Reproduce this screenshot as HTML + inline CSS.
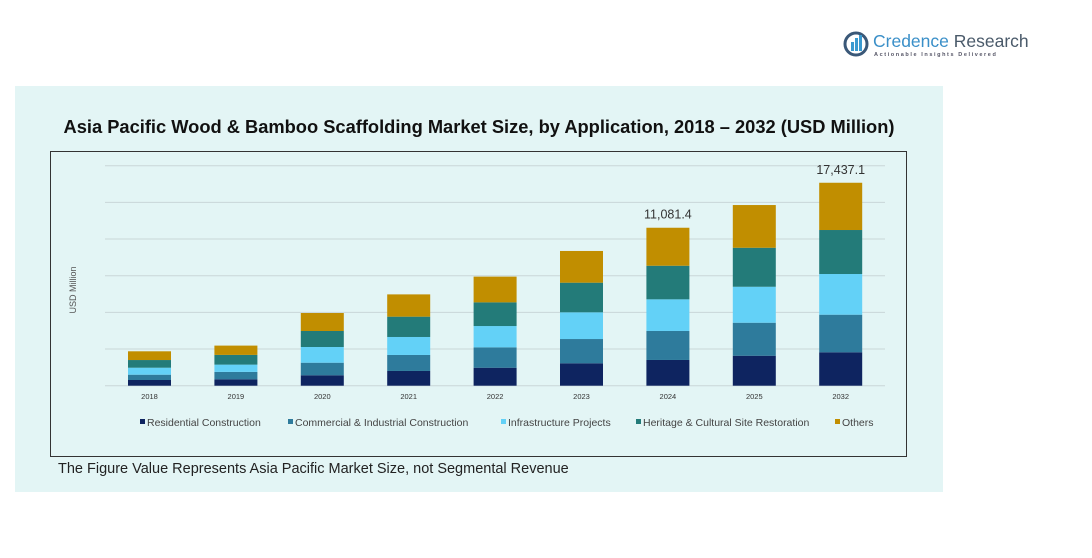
<!DOCTYPE html>
<html><head><meta charset="utf-8">
<style>
body{margin:0;width:1092px;height:558px;background:#fff;font-family:"Liberation Sans",sans-serif;overflow:hidden;position:relative}
#panel{position:absolute;left:15px;top:86px;width:928px;height:406px;background:#e3f5f5}
#title{position:absolute;left:15px;top:116px;width:928px;text-align:center;font-weight:bold;font-size:18.3px;color:#111}
#frame{position:absolute;left:50px;top:151px;width:857px;height:306px;border:1.5px solid #333;box-sizing:border-box}
#foot{position:absolute;left:58px;top:461px;font-size:14.5px;color:#222}
#logo{position:absolute;left:843px;top:28px}
</style></head><body>
<div id="panel"></div>
<div id="title">Asia Pacific Wood &amp; Bamboo Scaffolding Market Size, by Application, 2018 – 2032 (USD Million)</div>
<div id="frame"></div>
<div id="foot">The Figure Value Represents Asia Pacific Market Size, not Segmental Revenue</div>
<div id="logo">
<svg width="240" height="34"><circle cx="13" cy="16" r="11" fill="none" stroke="#3a5878" stroke-width="3"/><rect x="8" y="14" width="3" height="9" fill="#3a9ad0"/><rect x="12" y="10" width="3" height="13" fill="#3a9ad0"/><rect x="16" y="7" width="3" height="16" fill="#3a9ad0"/>
<text x="30" y="19" font-size="17.5" fill="#3a8fc8" font-family="Liberation Sans">Credence <tspan fill="#4a5a6a">Research</tspan></text>
<text x="31" y="28" font-size="5.5" fill="#556" letter-spacing="1.6" font-weight="bold">Actionable Insights Delivered</text></svg></div>
<svg id="chart" width="1092" height="558" style="position:absolute;left:0;top:0"></svg>
<script>
const categories=["2018","2019","2020","2021","2022","2023","2024","2025","2032"];
const residential=[490,550,895,1265,1545,1925,2210,2575,2870];
const commercial=[455,635,1080,1375,1750,2085,2490,2835,3230];
const infrastructure=[600,625,1350,1545,1830,2295,2720,3090,3495];
const heritage=[660,835,1375,1745,2035,2545,2885,3350,3780];
const others=[750,800,1545,1915,2210,2725,3265,3670,4060];
const seriesNames=["Residential Construction","Commercial & Industrial Construction","Infrastructure Projects","Heritage & Cultural Site Restoration","Others"];
const topLabels={"2024":"11,081.4","2032":"17,437.1"};
const colors=["#0e2460","#2e7b9c","#63d1f7","#237b79","#c18e00"];
const series=[residential,commercial,infrastructure,heritage,others];
const NS="http://www.w3.org/2000/svg";
const svg=document.getElementById('chart');
const base=385.7,yMax=18900,yTop=165.7;
const y=v=>base-(v/yMax)*(base-yTop);
const x0=149.5,step=86.4,bw=43;
const xc=i=>x0+i*step;
function mk(t,a){const e=document.createElementNS(NS,t);for(const k in a)e.setAttribute(k,a[k]);svg.appendChild(e);return e;}
for(let g=0;g<=6;g++){const gy=base-g*(base-yTop)/6;
 const l=mk('line',{x1:105,x2:885,y1:gy,y2:gy,stroke:'#c9d6d8','stroke-width':1});
 
 }
const yt=mk('text',{x:0,y:0,'font-size':9,fill:'#555',transform:'translate(76,290) rotate(-90)','text-anchor':'middle'});
yt.textContent='USD Million';


categories.forEach((c,i)=>{
 let cum=0;
 series.forEach((s,k)=>{
  const y1=y(cum),y2=y(cum+s[i]);cum+=s[i];
  const r=mk('rect',{x:xc(i)-bw/2,y:y2,width:bw,height:y1-y2,fill:colors[k]});
  
  
 });
 const t=mk('text',{x:xc(i),y:399,'font-size':7.5,fill:'#333','text-anchor':'middle'});
 t.textContent=c;
 
 
 if(topLabels[c]){const tl=mk('text',{x:xc(i),y:y(cum)-9,'font-size':12.5,fill:'#333','text-anchor':'middle'});
  tl.textContent=topLabels[c];
  
  }
});
const lx=[140,288,501,636,835];
seriesNames.forEach((n,k)=>{
 const r=mk('rect',{x:lx[k],y:419,width:5,height:5,fill:colors[k]});
 
 
 const t=mk('text',{x:lx[k]+7,y:426,'font-size':10.5,fill:'#444'});
 t.textContent=n;
 
 
});
</script>
</body></html>
